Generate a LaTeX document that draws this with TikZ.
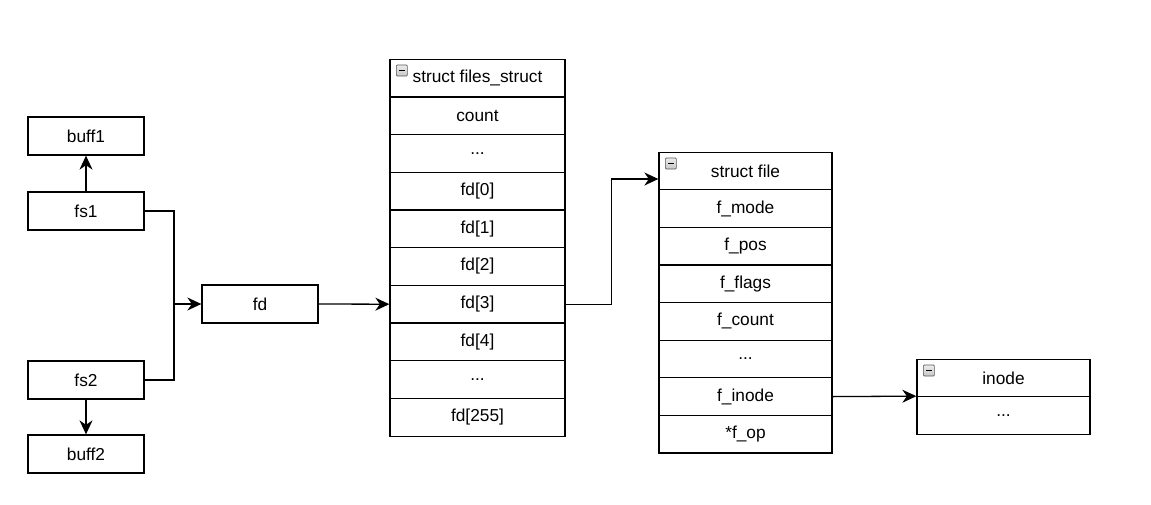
\documentclass[tikz,border=0pt]{standalone}
\usepackage{fontspec}
\setmainfont{Liberation Sans}
\usetikzlibrary{arrows.meta}
\begin{document}
\begin{tikzpicture}[x=1pt,y=-1pt,
  every node/.style={font=\fontsize{17.3}{20}\selectfont},
  box/.style={draw, line width=1.3pt, inner sep=0pt, minimum width=116pt, minimum height=38pt},
  fsrow/.style={draw, line width=1.3pt, inner sep=0pt, minimum width=175pt, minimum height=37.7pt},
  sfrow/.style={draw, line width=1.3pt, inner sep=0pt, minimum width=173pt, minimum height=37.6pt},
  conn/.style={line width=1.3pt},
  arr/.style={conn, -{Stealth[length=14pt,width=13pt,inset=4.5pt]}},
  icon/.style={draw=gray!70!black, top color=gray!15, bottom color=gray!45, line width=0.7pt, rounded corners=1pt}
]
\useasboundingbox (0,0) rectangle (1151,504);
\fill[white] (0,0) rectangle (1151,504);

% left boxes
\node[box] (buff1) at (86,136) {buff1};
\node[box] (fs1) at (86,211) {fs1};
\node[box] (fs2) at (86,380) {fs2};
\node[box] (buff2) at (86,454) {buff2};
\node[box] (fd) at (260,304) {fd};

% struct files_struct
\node[fsrow] (fshead) at (477.5,78) {struct files\_struct};
\node[fsrow] (count) at (477.5,115.7) {count};
\node[fsrow] (fsdots1) at (477.5,153.4) {...};
\node[fsrow] (fd0) at (477.5,191.1) {fd[0]};
\node[fsrow] (fd1) at (477.5,228.8) {fd[1]};
\node[fsrow] (fd2) at (477.5,266.5) {fd[2]};
\node[fsrow] (fd3) at (477.5,304.2) {fd[3]};
\node[fsrow] (fd4) at (477.5,341.9) {fd[4]};
\node[fsrow] (fsdots2) at (477.5,379.6) {...};
\node[fsrow] (fd255) at (477.5,417.3) {fd[255]};

% struct file
\node[sfrow] (sfhead) at (745.5,171) {struct file};
\node[sfrow] (fmode) at (745.5,208.6) {f\_mode};
\node[sfrow] (fpos) at (745.5,246.2) {f\_pos};
\node[sfrow] (fflags) at (745.5,283.8) {f\_flags};
\node[sfrow] (fcount) at (745.5,321.4) {f\_count};
\node[sfrow] (sfdots) at (745.5,359) {...};
\node[sfrow] (finode) at (745.5,396.6) {f\_inode};
\node[sfrow] (fop) at (745.5,434.2) {*f\_op};

% inode
\node[sfrow] (inhead) at (1003.5,378) {inode};
\node[sfrow] (indots) at (1003.5,415.6) {...};

% collapse icons
\foreach \n in {fshead, sfhead, inhead} {
  \draw[icon] ([xshift=7pt,yshift=-6.5pt]\n.north west) rectangle ++(11,11);
  \draw[line width=1.6pt] ([xshift=9.8pt,yshift=-12pt]\n.north west) -- ++(5.4,0);
}

% connectors
\draw[arr] (fs1.north) -- (buff1.south);
\draw[arr] (fs2.south) -- (buff2.north);
\coordinate (j) at (174,304);
\draw[conn] (fs1.east) -| (j);
\draw[conn] (fs2.east) -| (j);
\draw[arr] (j) -- (fd.west);
\draw[arr] (fd.east) -- (fd3.west);
\draw[arr] (fd3.east) -- ++(46,0) |- ([yshift=-8pt]sfhead.west);
\draw[arr] (finode.east) -- (indots.north west);
\end{tikzpicture}
\end{document}
